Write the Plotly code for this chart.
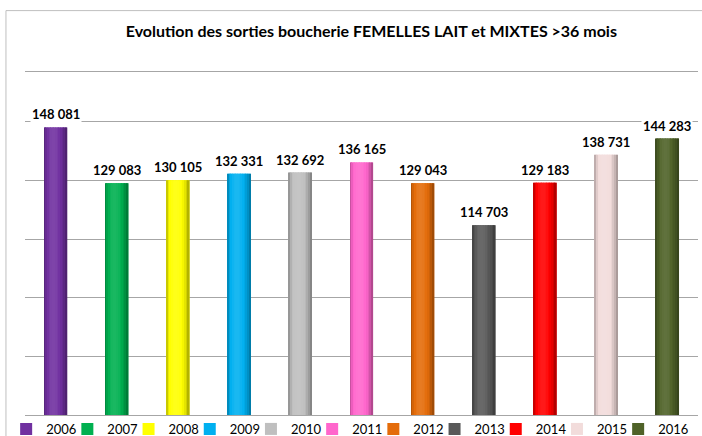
import plotly.graph_objects as go
import math

years = ["2006", "2007", "2008", "2009", "2010", "2011", "2012", "2013", "2014", "2015", "2016"]
values = [148081, 129083, 130105, 132331, 132692, 136165, 129043, 114703, 129183, 138731, 144283]
colors = ["#7030A0", "#00B050", "#FFFF00", "#00B0F0", "#BFBFBF", "#FF66CC",
          "#E46C0A", "#595959", "#FF0000", "#F2DCDB", "#4F6228"]
title = "Evolution des sorties boucherie FEMELLES LAIT et MIXTES >36 mois"

FONT = "Lato, 'Open Sans', sans-serif"
BAR_W = 0.376
N_STRIPS = 14
LEG_X0 = -0.028
LEG_STEP_PX = 61.2


def hex2rgb(h):
    h = h.lstrip("#")
    return [int(h[i:i + 2], 16) for i in (0, 2, 4)]


def shade(hexc, k):
    r = hex2rgb(hexc)
    if k <= 1:
        out = [c * k for c in r]
    else:
        out = [c + (255 - c) * (k - 1) for c in r]
    out = [max(0, min(255, int(round(c)))) for c in out]
    return "rgb(%d,%d,%d)" % tuple(out)


def fmt(v):
    return "{:,}".format(v).replace(",", " ")


def leg_id(i):
    return "legend" if i == 0 else "legend%d" % (i + 1)


fig = go.Figure()

# base bars (one trace per year, each with its own legend entry box)
n = len(years)
for i, (yr, v, c) in enumerate(zip(years, values, colors)):
    fig.add_trace(go.Bar(x=[yr], y=[v], name=yr, width=BAR_W,
                         marker=dict(color=c, line=dict(width=0)),
                         legend=leg_id(i), hoverinfo="skip"))

# cylindrical shading strips
for i in range(N_STRIPS):
    t = (i + 0.5) / N_STRIPS
    ts = t ** (math.log(0.5) / math.log(0.42))
    k = 0.58 + 0.52 * (math.sin(math.pi * ts) ** 0.6)
    fig.add_trace(go.Bar(
        x=years, y=values, width=BAR_W / N_STRIPS + 0.002,
        offset=-BAR_W / 2 + i * BAR_W / N_STRIPS,
        marker=dict(color=[shade(c, k) for c in colors], line=dict(width=0)),
        showlegend=False, hoverinfo="skip"))

# value labels (category index on the category axis)
for idx, v in enumerate(values):
    fig.add_annotation(x=idx, y=v, text="<b>" + fmt(v) + "</b>", showarrow=False,
                       yanchor="bottom", yshift=3, bgcolor="white", borderpad=1,
                       font=dict(family=FONT, size=13, color="black"))

fig.add_shape(type="rect", xref="paper", yref="paper",
              x0=-0.0283, x1=1.02, y0=-0.2, y1=1.179,
              line=dict(color="#BFBFBF", width=1), layer="below")

PLOT_W = 702 - 25 - 4
legends = {}
for i in range(n):
    legends[leg_id(i)] = dict(orientation="h", xanchor="left", yanchor="top", y=0.003,
                              x=LEG_X0 + i * LEG_STEP_PX / PLOT_W,
                              font=dict(family=FONT, size=13, color="black"),
                              itemwidth=30, bgcolor="rgba(0,0,0,0)")

fig.update_layout(
    width=702, height=436,
    margin=dict(l=25, r=4, t=72, b=21, autoexpand=False),
    paper_bgcolor="white", plot_bgcolor="white",
    barmode="overlay",
    title=dict(text="<b>" + title + "</b>", x=0.529, xanchor="center",
               y=0.927, yanchor="middle", yref="container",
               font=dict(family=FONT, size=16, color="black")),
    showlegend=True,
    font=dict(family=FONT),
    **legends,
)
fig.update_xaxes(type="category", categoryorder="array", categoryarray=years,
                 range=[-0.5, n - 0.5],
                 showticklabels=False, showgrid=False, showline=True, mirror=True,
                 linecolor="#A6A6A6", linewidth=1, ticks="")
fig.update_yaxes(range=[50000, 167000], tick0=50000, dtick=20000, showticklabels=False,
                 showgrid=True, gridcolor="#A6A6A6", gridwidth=1, zeroline=False,
                 showline=False, ticks="")

fig.write_html("out.html", config={"displayModeBar": False},
               post_script="document.body.style.margin='0';document.body.style.overflow='hidden';")
